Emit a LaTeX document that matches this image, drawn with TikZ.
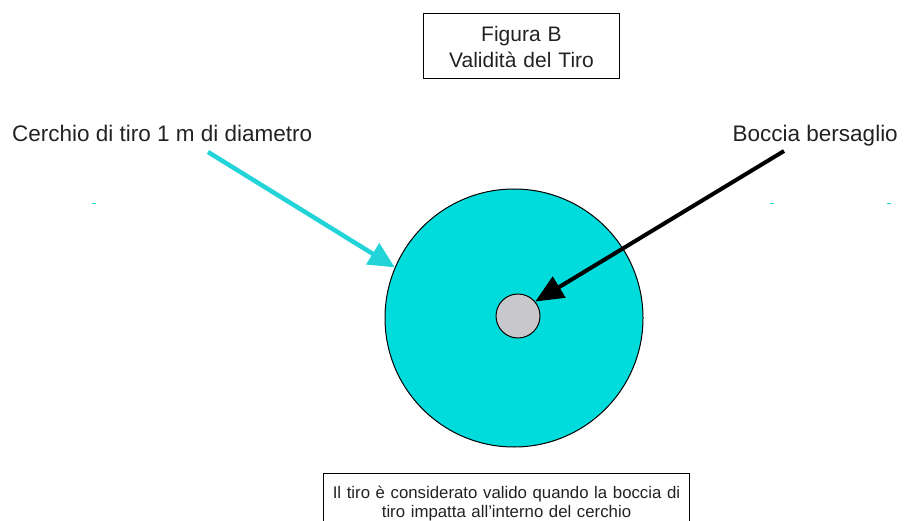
\documentclass[tikz,border=0pt]{standalone}
\usepackage{fontspec}
\setmainfont{Liberation Sans}
\usetikzlibrary{arrows.meta}
\definecolor{ringcyan}{RGB}{0,220,220}
\definecolor{arrowcyan}{RGB}{34,211,216}
\definecolor{ballgrey}{RGB}{200,200,204}
\definecolor{inkgrey}{RGB}{34,34,34}
\tikzstyle{titlebox} = [rectangle, draw, line width=1pt, text=inkgrey, text width=190pt, align=center, minimum height=65pt, font=\fontsize{21}{26}\selectfont]
\tikzstyle{notebox} = [rectangle, draw, line width=1pt, text=inkgrey, text width=360pt, align=center, inner ysep=1pt, minimum height=60pt, font=\fontsize{16.8}{19.5}\selectfont]
\tikzstyle{label} = [text=inkgrey, font=\fontsize{22.5}{26}\selectfont, inner sep=0pt]
\tikzstyle{tick} = [arrowcyan, line width=1pt]

\begin{document}
\begin{tikzpicture}[x=1pt, y=-1pt]
   \clip (0,0) rectangle (904,521);
   \useasboundingbox (0,0) rectangle (904,521);
   % nodes
   \node[titlebox] (title) at (521.5,46.5) {Figura B\\Validità del Tiro};
   \node[label, anchor=base west] (cerchio) at (12,142) {Cerchio di tiro 1 m di diametro};
   \node[label, anchor=base east] (boccia) at (898,142) {Boccia bersaglio};
   \node[circle, draw, line width=1pt, fill=ringcyan, minimum size=258pt, inner sep=0pt] (ring) at (514,318) {};
   \node[circle, draw, line width=1pt, fill=ballgrey, minimum size=44pt, inner sep=0pt] (ball) at (518,316) {};
   \node[notebox, anchor=north] (note) at (506.5,473) {Il tiro è considerato valido quando la boccia di\\tiro impatta all'interno del cerchio};
   \coordinate (cstart) at (208,152);
   \coordinate (bstart) at (784,151);

   % edges
   \draw[-{Triangle[length=26pt, width=24pt]}, arrowcyan, line width=4.5pt] (cstart) -- (ring.157);
   \draw[-{Triangle[length=28pt, width=24pt]}, line width=4pt] (bstart) -- (ball.40);

   % little marks
   \draw[tick] (92,204) -- (96,204);
   \draw[tick] (770,204) -- (774,204);
   \draw[tick] (887,204) -- (891,204);
\end{tikzpicture}
\end{document}
